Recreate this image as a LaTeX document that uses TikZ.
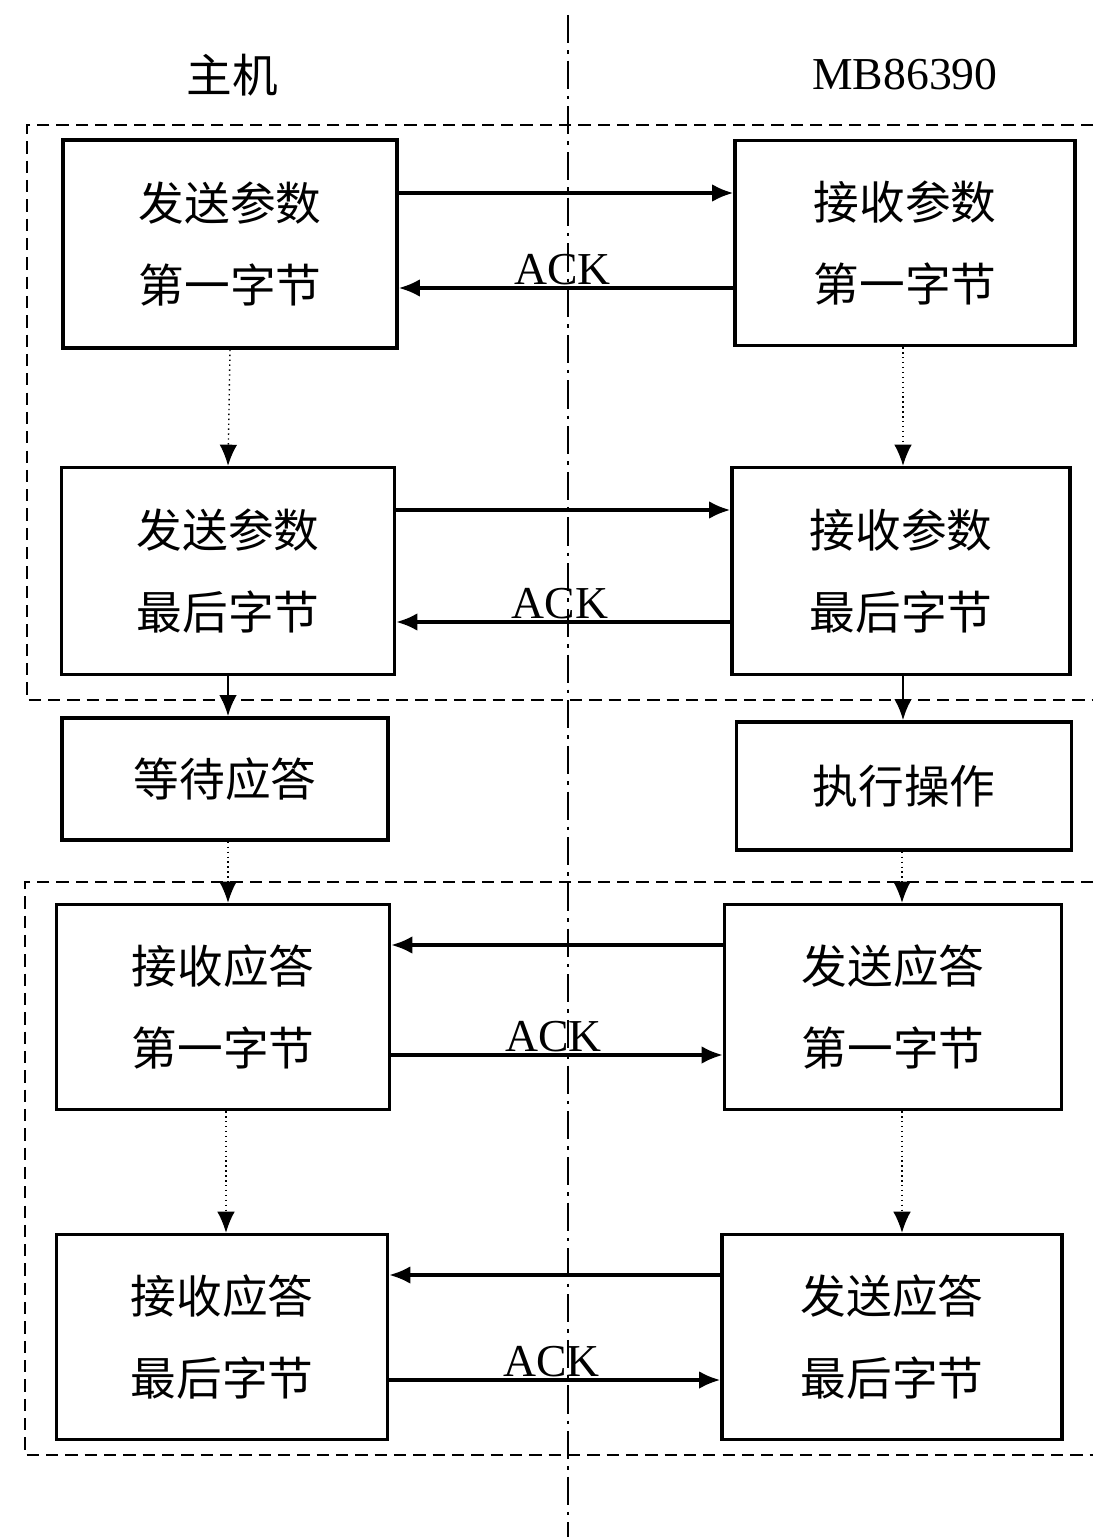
\documentclass[tikz,border=0pt]{standalone}
\usepackage{fontspec}
\setmainfont{Liberation Serif}
\newfontfamily\cjk{Noto Sans CJK SC}
\usetikzlibrary{arrows.meta}
\begin{document}
\begin{tikzpicture}[x=0.02cm,y=-0.02cm,
  box/.style={draw,line width=2pt,align=center,inner sep=0pt,
    font=\cjk\fontsize{26}{47}\selectfont},
  hdr/.style={font=\fontsize{26}{30}\selectfont},
  acklab/.style={font=\fontsize{26}{30}\selectfont,inner sep=1pt},
  arr/.style={line width=1.8pt,-{Latex[length=12pt,width=10pt]}},
  darr/.style={line width=0.8pt,dotted,-{Latex[length=12pt,width=10pt]}},
  sarr/.style={line width=1.5pt,-{Latex[length=12pt,width=10pt]}},
  grp/.style={line width=1.6pt,dash pattern=on 7pt off 4pt},
  mid/.style={line width=1.2pt,dash pattern=on 16pt off 4pt on 2pt off 4pt}]
\useasboundingbox[fill=white] (0,0) rectangle (1093,1537);
% center divider
\coordinate (mtop) at (568,15);
\coordinate (mbot) at (568,1537);
\draw[mid] (mtop) -- (mbot);
% headers
\node[hdr,font=\cjk\fontsize{26}{30}\selectfont] (hA) at (232,75) {主机};
\node[hdr] (hB) at (905,75) {MB86390};
% group frames
\coordinate (g1a) at (1093,125); \coordinate (g1b) at (27,125);
\coordinate (g1c) at (27,700); \coordinate (g1d) at (1093,700);
\draw[grp] (g1a) -- (g1b) -- (g1c) -- (g1d);
\coordinate (g2a) at (1093,882); \coordinate (g2b) at (25,882);
\coordinate (g2c) at (25,1455); \coordinate (g2d) at (1093,1455);
\draw[grp] (g2a) -- (g2b) -- (g2c) -- (g2d);
% boxes
\node[box,minimum width=6.68cm,minimum height=4.16cm] (A1) at (230,244) {发送参数\\第一字节};
\node[box,minimum width=6.80cm,minimum height=4.10cm] (B1) at (905,243) {接收参数\\第一字节};
\node[box,minimum width=6.66cm,minimum height=4.14cm] (A2) at (228,571) {发送参数\\最后字节};
\node[box,minimum width=6.76cm,minimum height=4.14cm] (B2) at (901,571) {接收参数\\最后字节};
\node[box,minimum width=6.52cm,minimum height=2.44cm] (W) at (225,779) {等待应答};
\node[box,minimum width=6.70cm,minimum height=2.56cm] (E) at (904,786) {执行操作};
\node[box,minimum width=6.66cm,minimum height=4.10cm] (C1) at (223,1007) {接收应答\\第一字节};
\node[box,minimum width=6.74cm,minimum height=4.10cm] (D1) at (893,1007) {发送应答\\第一字节};
\node[box,minimum width=6.62cm,minimum height=4.10cm] (C2) at (222,1337) {接收应答\\最后字节};
\node[box,minimum width=6.80cm,minimum height=4.10cm] (D2) at (892,1337) {发送应答\\最后字节};
% horizontal levels
\coordinate (y1) at (0,193); \coordinate (y2) at (0,288);
\coordinate (y3) at (0,510); \coordinate (y4) at (0,622);
\coordinate (y5) at (0,945); \coordinate (y6) at (0,1055);
\coordinate (y7) at (0,1275); \coordinate (y8) at (0,1380);
\draw[arr] (A1.east |- y1) -- (B1.west |- y1);
\draw[arr] (B1.west |- y2) -- node[acklab,above,pos=0.51] (k1) {ACK} (A1.east |- y2);
\draw[arr] (A2.east |- y3) -- (B2.west |- y3);
\draw[arr] (B2.west |- y4) -- node[acklab,above,pos=0.51] (k2) {ACK} (A2.east |- y4);
\draw[arr] (D1.west |- y5) -- (C1.east |- y5);
\draw[arr] (C1.east |- y6) -- node[acklab,above,pos=0.49] (k3) {ACK} (D1.west |- y6);
\draw[arr] (D2.west |- y7) -- (C2.east |- y7);
\draw[arr] (C2.east |- y8) -- node[acklab,above,pos=0.49] (k4) {ACK} (D2.west |- y8);
% vertical connectors
\draw[darr] (A1.south) -- (A2.north);
\draw[darr] (B1.south -| 903,0) -- (B2.north -| 903,0);
\draw[sarr] (A2.south) -- (W.north -| A2.south);
\draw[sarr] (B2.south -| 903,0) -- (E.north -| 903,0);
\draw[darr] (W.south -| 228,0) -- (C1.north -| 228,0);
\draw[darr] (E.south -| 902,0) -- (D1.north -| 902,0);
\draw[darr] (C1.south -| 226,0) -- (C2.north -| 226,0);
\draw[darr] (D1.south -| 902,0) -- (D2.north -| 902,0);
\end{tikzpicture}
\end{document}
